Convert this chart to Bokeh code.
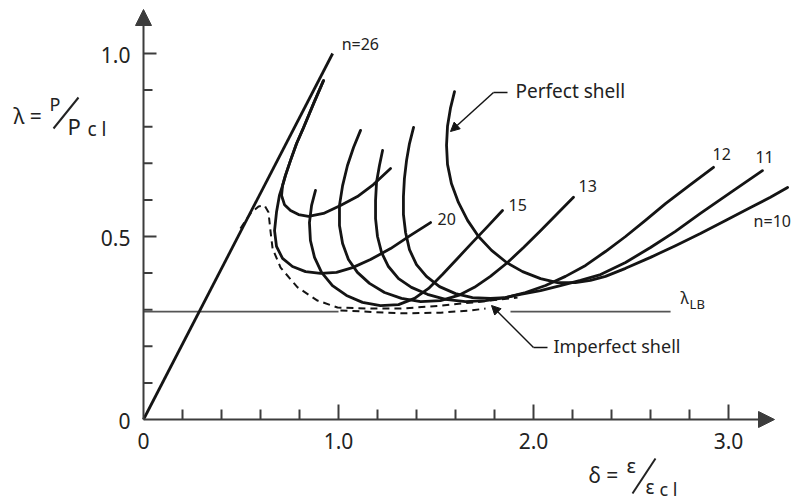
import math

from bokeh.plotting import figure
from bokeh.models import Range1d, Arrow, NormalHead
from bokeh.embed import file_html
from bokeh.resources import INLINE
from bokeh.core.properties import value

# ---------------------------------------------------------------- data
# linear pre-buckling path
linear_delta = [0.0, 0.97]
linear_lambda = [0.0, 1.0]

# perfect-shell post-buckling paths, one per circumferential wave number n
n26_delta = [0.923, 0.872, 0.821, 0.785, 0.754, 0.728, 0.713, 0.708, 0.723, 0.754,
             0.795, 0.846, 0.923, 1.010, 1.097, 1.179, 1.267]
n26_lambda = [0.926, 0.863, 0.798, 0.754, 0.708, 0.667, 0.639, 0.612, 0.587, 0.571,
              0.560, 0.555, 0.563, 0.585, 0.609, 0.642, 0.686]

n20_delta = [0.923, 0.872, 0.821, 0.785, 0.754, 0.728, 0.713, 0.697, 0.682, 0.672,
             0.682, 0.713, 0.764, 0.831, 0.908, 0.990, 1.072, 1.164, 1.267, 1.369, 1.472]
n20_lambda = [0.926, 0.863, 0.798, 0.754, 0.708, 0.667, 0.639, 0.612, 0.566, 0.516,
              0.473, 0.440, 0.418, 0.404, 0.399, 0.402, 0.415, 0.437, 0.467, 0.503, 0.538]

n15_delta = [0.882, 0.862, 0.851, 0.856, 0.877, 0.913, 0.969, 1.041, 1.123, 1.215,
             1.308, 1.390, 1.462, 1.533, 1.610, 1.687, 1.764, 1.841]
n15_lambda = [0.626, 0.585, 0.538, 0.489, 0.443, 0.402, 0.366, 0.339, 0.320, 0.311,
              0.314, 0.331, 0.358, 0.396, 0.440, 0.484, 0.527, 0.571]

n13_delta = [1.113, 1.077, 1.046, 1.021, 1.005, 1.005, 1.021, 1.051, 1.097, 1.159,
             1.236, 1.323, 1.421, 1.523, 1.615, 1.697, 1.779, 1.867, 1.949, 2.036,
             2.123, 2.205]
n13_lambda = [0.790, 0.743, 0.694, 0.639, 0.585, 0.530, 0.481, 0.437, 0.402, 0.372,
              0.347, 0.331, 0.322, 0.325, 0.339, 0.361, 0.391, 0.429, 0.470, 0.516,
              0.563, 0.607]

n12_delta = [1.226, 1.210, 1.195, 1.190, 1.190, 1.200, 1.221, 1.256, 1.308, 1.374,
             1.456, 1.549, 1.651, 1.754, 1.856, 1.959, 2.062, 2.164, 2.267, 2.369,
             2.472, 2.574, 2.677, 2.805, 2.923]
n12_lambda = [0.735, 0.694, 0.648, 0.598, 0.549, 0.500, 0.456, 0.418, 0.385, 0.361,
              0.342, 0.328, 0.322, 0.325, 0.333, 0.347, 0.366, 0.391, 0.421, 0.459,
              0.500, 0.544, 0.590, 0.642, 0.689]

n11_delta = [1.385, 1.364, 1.349, 1.338, 1.333, 1.333, 1.344, 1.364, 1.400, 1.451,
             1.518, 1.600, 1.687, 1.779, 1.856, 1.933, 2.036, 2.138, 2.241, 2.344,
             2.472, 2.600, 2.728, 2.856, 3.010, 3.174]
n11_lambda = [0.798, 0.754, 0.708, 0.658, 0.609, 0.560, 0.511, 0.464, 0.423, 0.391,
              0.363, 0.344, 0.333, 0.331, 0.333, 0.342, 0.352, 0.366, 0.380, 0.396,
              0.429, 0.470, 0.514, 0.563, 0.620, 0.680]

n10_delta = [1.595, 1.574, 1.559, 1.554, 1.559, 1.579, 1.615, 1.662, 1.718, 1.785,
             1.862, 1.944, 2.036, 2.123, 2.215, 2.292, 2.369, 2.472, 2.600, 2.728,
             2.856, 2.985, 3.113, 3.215, 3.303]
n10_lambda = [0.896, 0.850, 0.801, 0.749, 0.697, 0.645, 0.593, 0.544, 0.500, 0.462,
              0.429, 0.404, 0.385, 0.374, 0.374, 0.380, 0.391, 0.413, 0.443, 0.475,
              0.508, 0.544, 0.579, 0.607, 0.634]

curve_labels = ["n=26", "20", "15", "13", "12", "11", "n=10"]

# imperfect-shell response (dashed)
imperfect_delta = [0.497, 0.549, 0.590, 0.621, 0.641, 0.651, 0.662, 0.703, 0.790,
                   0.892, 0.995, 1.164, 1.318, 1.523, 1.728, 1.918]
imperfect_lambda = [0.522, 0.563, 0.582, 0.585, 0.566, 0.516, 0.467, 0.415, 0.361,
                    0.325, 0.306, 0.303, 0.303, 0.311, 0.322, 0.333]
imperfect2_delta = [1.010, 1.318, 1.523, 1.677, 1.754]
imperfect2_lambda = [0.298, 0.290, 0.292, 0.298, 0.303]

# lower-bound load level
lambda_lb = 0.295
lb_left = [0.0, 1.0]
lb_right = [1.882, 2.703]

# axis ticks
x_tick_values = [0.0, 1.0, 2.0, 3.0]
x_tick_labels = ["0", "1.0", "2.0", "3.0"]
x_minor = [0.2, 0.4, 0.6, 0.8, 1.2, 1.4, 1.6, 1.8, 2.2, 2.4, 2.6, 2.8]
y_tick_values = [0.0, 0.5, 1.0]
y_tick_labels = ["0", "0.5", "1.0"]
y_minor = [0.1, 0.2, 0.3, 0.4, 0.6, 0.7, 0.8, 0.9]

# ---------------------------------------------------------------- layout
W, H = 794, 502
X0, Y0 = 143, 419        # origin on the canvas, px
SX, SY = 195.0, 366.0    # px per unit of delta / lambda
LIFT = -7                # baseline correction for text glyphs, px


def at(px, py):
    """canvas pixel -> data coordinates (for annotation placement)"""
    return (px - X0) / SX, (Y0 - py) / SY


INK = "#141414"
AXIS = "#3c3c3c"
TXT = "#222222"
FONT = value("Noto Sans")

p = figure(width=W, height=H,
           x_range=Range1d(-X0 / SX, (W - X0) / SX),
           y_range=Range1d(-(H - Y0) / SY, Y0 / SY),
           min_border=0, toolbar_location=None, output_backend="svg",
           x_axis_location=None, y_axis_location=None,
           outline_line_color=None, background_fill_color="white",
           border_fill_color="white")
p.grid.grid_line_color = None

# axes with arrow heads
p.add_layout(Arrow(x_start=0, y_start=0, x_end=0, y_end=at(0, 9)[1],
                   line_color=AXIS, line_width=2,
                   end=NormalHead(size=16, fill_color=AXIS, line_color=AXIS, line_width=1)))
p.add_layout(Arrow(x_start=0, y_start=0, x_end=at(774, 0)[0], y_end=0,
                   line_color=AXIS, line_width=2,
                   end=NormalHead(size=16, fill_color=AXIS, line_color=AXIS, line_width=1)))

# ticks (drawn inward)
p.ray(x=[0] * len(y_minor), y=y_minor, length=9, angle=0, length_units="screen",
      line_color=AXIS, line_width=2)
p.ray(x=[0] * 2, y=y_tick_values[1:], length=13, angle=0, length_units="screen",
      line_color=AXIS, line_width=2)
p.ray(x=x_minor, y=[0] * len(x_minor), length=10, angle=math.pi / 2,
      length_units="screen", line_color=AXIS, line_width=2)
p.ray(x=x_tick_values[1:], y=[0] * 3, length=15, angle=math.pi / 2,
      length_units="screen", line_color=AXIS, line_width=2)

p.text(x=x_tick_values, y=[0] * 4, text=x_tick_labels, text_font=FONT,
       text_font_size="21px", text_align="center", text_baseline="alphabetic",
       y_offset=28 + LIFT, text_color=TXT)
p.text(x=[0] * 3, y=y_tick_values, text=y_tick_labels, text_font=FONT,
       text_font_size="21px", text_align="right", text_baseline="alphabetic",
       x_offset=-13, y_offset=8 + LIFT, text_color=TXT)

# lower bound line
p.line(lb_left, [lambda_lb] * 2, line_color="#555555", line_width=1.8)
p.line(lb_right, [lambda_lb] * 2, line_color="#555555", line_width=1.8)

# imperfect shell
p.line(imperfect_delta, imperfect_lambda, line_color=INK, line_width=2,
       line_dash="7 5")
p.line(imperfect2_delta, imperfect2_lambda, line_color=INK, line_width=2,
       line_dash="7 5")

# linear path and perfect-shell curves
p.line(linear_delta, linear_lambda, line_color=INK, line_width=2.8)
curves = [(n26_delta, n26_lambda), (n20_delta, n20_lambda), (n15_delta, n15_lambda),
          (n13_delta, n13_lambda), (n12_delta, n12_lambda), (n11_delta, n11_lambda),
          (n10_delta, n10_lambda)]
for d, l in curves:
    p.line(d, l, line_color=INK, line_width=2.8, line_join="round", line_cap="round")

# curve labels, anchored to each path's end
anchors = [(linear_delta[-1], linear_lambda[-1])] + [(d[-1], l[-1]) for d, l in curves[1:]]
offsets = [(9, -3), (7, 3), (6, 1), (5, -4), (-1, -6), (-7, -7), (-34, 41)]
for (ax, ay), (ox, oy), lab in zip(anchors, offsets, curve_labels):
    p.text(x=[ax], y=[ay], text=[lab], x_offset=ox, y_offset=oy + LIFT, text_font=FONT,
           text_font_size="16px", text_baseline="alphabetic", text_color=TXT)

# lambda_LB label
p.text(x=[lb_right[1]], y=[lambda_lb], text=["λ"], x_offset=10, y_offset=4 + LIFT,
       text_font=FONT, text_font_size="16px", text_color=TXT)
p.text(x=[lb_right[1]], y=[lambda_lb], text=["LB"], x_offset=19, y_offset=8 + LIFT,
       text_font=FONT, text_font_size="13px", text_color=TXT)

# pointers
tip = at(450, 131)
p.line([at(507, 92)[0], at(493, 92)[0]], [at(0, 92)[1]] * 2, line_color=INK, line_width=1.5)
p.add_layout(Arrow(x_start=at(493, 92)[0], y_start=at(0, 92)[1], x_end=tip[0], y_end=tip[1],
                   line_color=INK, line_width=1.5,
                   end=NormalHead(size=9, fill_color=INK, line_color=INK)))

tip2 = at(491, 305)
p.line([at(547, 347)[0], at(533, 347)[0]], [at(0, 347)[1]] * 2, line_color=INK, line_width=1.5)
p.add_layout(Arrow(x_start=at(533, 347)[0], y_start=at(0, 347)[1], x_end=tip2[0], y_end=tip2[1],
                   line_color=INK, line_width=1.5,
                   end=NormalHead(size=9, fill_color=INK, line_color=INK)))


def put(txt, px, py, size):
    x, y = at(px, py + LIFT)
    p.text(x=[x], y=[y], text=[txt], text_font=FONT, text_font_size=size,
           text_baseline="alphabetic", text_color=TXT)


def slash(px0, py0, px1, py1):
    a, b = at(px0, py0)
    c, d = at(px1, py1)
    p.segment(x0=[a], y0=[b], x1=[c], y1=[d], line_color=TXT, line_width=2)


put("Perfect shell", 515, 97, "19px")
put("Imperfect shell", 553, 352, "18px")

# axis titles written as fractions
put("λ =", 13, 122, "21px")
put("P", 49, 110, "18px")
slash(53, 128, 78, 97)
put("P", 67, 132, "22px")
put("c l", 87, 135, "19px")

put("δ =", 588, 481, "21px")
put("ε", 626, 472, "20px")
slash(632, 493, 655, 458)
put("ε", 645, 493, "19px")
put("c l", 659, 495, "18px")

open("out.html", "w").write(file_html(p, INLINE))
